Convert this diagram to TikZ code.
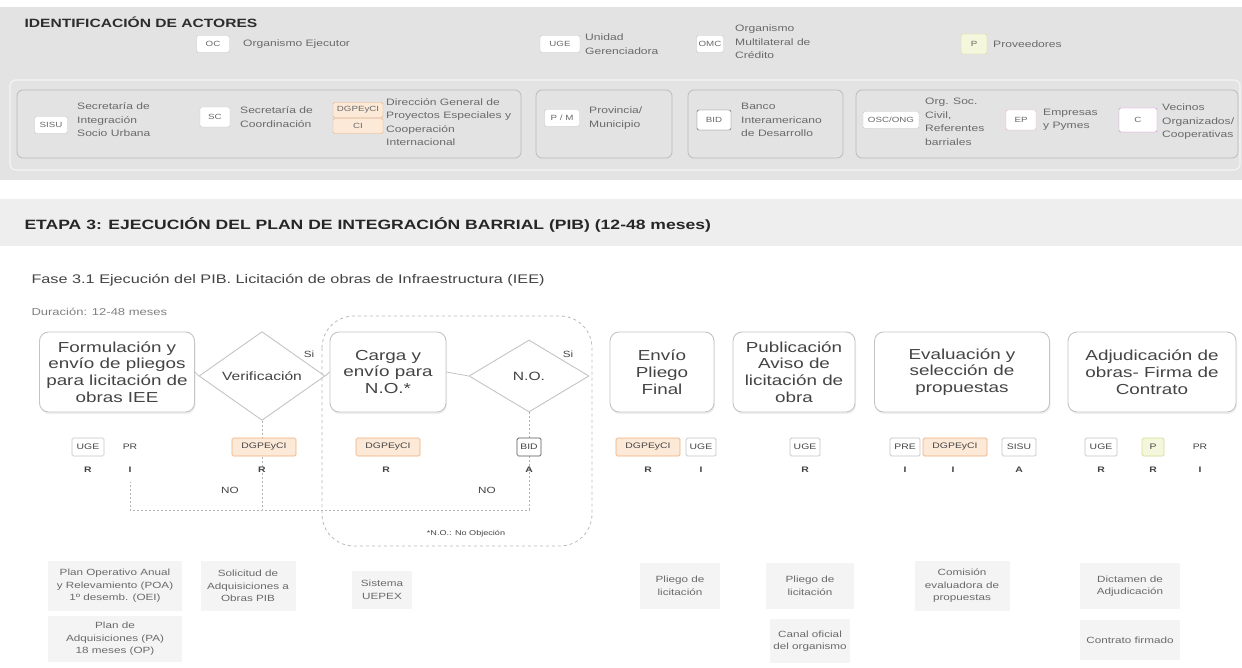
\documentclass[tikz,border=0pt]{standalone}
\usepackage{fontspec}
\setmainfont{Liberation Sans}[FakeStretch=1.3]
\usetikzlibrary{shapes.geometric,shadows}
\definecolor{band}{HTML}{E3E3E3}
\definecolor{bandtwo}{HTML}{EEEEEE}
\definecolor{bord}{HTML}{C4C4C4}
\definecolor{txt}{HTML}{444444}
\definecolor{ltxt}{HTML}{6A6A6A}
\definecolor{docfill}{HTML}{F4F4F4}
\definecolor{orgb}{HTML}{F0B07A}
\definecolor{orgf}{HTML}{FCE9D8}
\definecolor{yelb}{HTML}{D5DC95}
\definecolor{yelf}{HTML}{F4F7DC}
\definecolor{pinkb}{HTML}{E7B6C8}
\definecolor{magb}{HTML}{D27ED2}
\definecolor{bidb}{HTML}{555555}
\begin{document}
\begin{tikzpicture}[x=1pt,y=-1pt,
  flowbox/.style={draw=bord, fill=white, rounded corners=9pt, line width=0.9pt, align=center, text=txt, font=\fontsize{14.5}{16.8}\selectfont, minimum height=80pt, inner sep=2pt, drop shadow={opacity=0.12,shadow xshift=1pt,shadow yshift=-2pt}},
  decision/.style={diamond, draw=bord, fill=white, line width=0.9pt, text=txt, font=\fontsize{12}{14}\selectfont, minimum width=126pt, minimum height=72pt, inner sep=0pt},
  role/.style={draw=bord, fill=white, rounded corners=1.5pt, line width=0.7pt, text=txt, font=\fontsize{8}{9}\selectfont, minimum height=18pt, inner sep=2pt},
  orole/.style={role, draw=orgb, fill=orgf},
  raci/.style={text=txt, font=\bfseries\fontsize{8}{9}\selectfont},
  doc/.style={fill=docfill, align=center, text=ltxt, font=\fontsize{9}{12.5}\selectfont, inner sep=3pt},
  grp/.style={draw=gray!55, rounded corners=6pt, line width=0.7pt},
  act/.style={align=left, text=ltxt, font=\fontsize{9.3}{13.5}\selectfont, anchor=west, inner sep=0pt},
  abox/.style={draw=gray!45, fill=white, rounded corners=1.5pt, text=ltxt, font=\fontsize{7.5}{8.5}\selectfont, minimum height=17pt, inner sep=2pt},
  lnk/.style={draw=bord, line width=0.8pt},
  noloop/.style={draw=gray!60, dash pattern=on 2pt off 2pt, line width=0.7pt},
  lbl/.style={text=txt, font=\fontsize{9}{10}\selectfont}
]
\useasboundingbox (0,0) rectangle (1242,668);
\fill[white] (0,0) rectangle (1242,668);
% ---------- actors band ----------
\fill[band] (0,7) rectangle (1242,180);
\draw[white!60!band, line width=1.2pt, rounded corners=6pt] (10,80) rectangle (1240,170);
\node[anchor=west, text=gray!35!black, font=\bfseries\fontsize{12}{14}\selectfont] (hdr) at (21,22) {IDENTIFICACIÓN DE ACTORES};

\node[abox, minimum width=33pt] (oc) at (213,44) {OC};
\node[act] (oct) at (243,44) {Organismo Ejecutor};
\node[abox, minimum width=40pt] (uge) at (560,44) {UGE};
\node[act] (uget) at (585,44) {Unidad\\Gerenciadora};
\node[abox, minimum width=27pt] (omc) at (710,44) {OMC};
\node[act] (omct) at (735,42) {Organismo\\Multilateral de\\Crédito};
\node[abox, draw=yelb, fill=yelf, minimum width=26pt, minimum height=20pt] (pv) at (974,44) {P};
\node[act] (pvt) at (993,44) {Proveedores};

\draw[grp] (17,90) rectangle (521,158);
\draw[grp] (536,90) rectangle (672,158);
\draw[grp] (688,90) rectangle (843,158);
\draw[grp] (856,90) rectangle (1238,158);

\node[abox, minimum width=33pt] (sisu) at (51,125) {SISU};
\node[act] (sisut) at (77,120) {Secretaría de\\Integración\\Socio Urbana};
\node[abox, minimum width=30pt, minimum height=20pt] (sc) at (215,117) {SC};
\node[act] (sct) at (240,117) {Secretaría de\\Coordinación};
\node[abox, draw=orgb, fill=orgf, minimum width=50pt, minimum height=15pt] (dg) at (358,110) {DGPEyCI};
\node[abox, draw=orgb, fill=orgf, minimum width=50pt, minimum height=15pt] (ci) at (358,126) {CI};
\node[act] (dgt) at (386,122) {Dirección General de\\Proyectos Especiales y\\Cooperación\\Internacional};
\node[abox, minimum width=35pt] (pm) at (562,118) {P / M};
\node[act] (pmt) at (589,118) {Provincia/\\Municipio};
\node[abox, draw=bidb, minimum width=34pt, minimum height=20pt] (bidl) at (714,120) {BID};
\node[act] (bidt) at (741,120) {Banco\\Interamericano\\de Desarrollo};
\node[abox, minimum width=56pt] (osc) at (891,120) {OSC/ONG};
\node[act] (osct) at (925,122) {Org. Soc.\\Civil,\\Referentes\\barriales};
\node[abox, draw=pinkb, minimum width=30pt, minimum height=20pt] (ep) at (1021,120) {EP};
\node[act] (ept) at (1043,120) {Empresas\\y Pymes};
\node[abox, draw=magb, minimum width=38pt, minimum height=24pt] (coop) at (1138,120) {C};
\node[act] (coopt) at (1162,122) {Vecinos\\Organizados/\\Cooperativas};

% ---------- etapa ----------
\fill[bandtwo] (0,199) rectangle (1242,246);
\node[anchor=west, text=gray!30!black, font=\bfseries\fontsize{13.5}{16}\selectfont] (etapa) at (21,225) {ETAPA 3: EJECUCIÓN DEL PLAN DE INTEGRACIÓN BARRIAL (PIB) (12-48 meses)};
\node[anchor=west, text=txt, font=\fontsize{12.5}{14}\selectfont] (fase) at (28,280) {Fase 3.1 Ejecución del PIB. Licitación de obras de Infraestructura (IEE)};
\node[anchor=west, text=gray, font=\fontsize{10}{12}\selectfont] (dur) at (28,312) {Duración: 12-48 meses};

% ---------- region N.O. ----------
\draw[gray!55, dash pattern=on 3pt off 3pt, line width=0.8pt, rounded corners=32pt] (322,316) rectangle (592,546);
\node[text=txt, font=\fontsize{7}{8}\selectfont] (nonote) at (466,534) {*N.O.: No Objeción};

% ---------- flow ----------
\node[flowbox, minimum width=155pt] (f1) at (117,372) {Formulación y\\envío de pliegos\\para licitación de\\obras IEE};
\node[decision] (ver) at (262,376) {Verificación};
\node[flowbox, minimum width=116pt] (carga) at (388,372) {Carga y\\envío para\\N.O.*};
\node[decision, minimum width=120pt] (no) at (529,376) {N.O.};
\node[flowbox, minimum width=104pt] (envio) at (662,372) {Envío\\Pliego\\Final};
\node[flowbox, minimum width=122pt] (pub) at (794,372) {Publicación\\Aviso de\\licitación de\\obra};
\node[flowbox, minimum width=175pt] (eval) at (962,372) {Evaluación y\\selección de\\propuestas};
\node[flowbox, minimum width=168pt] (adj) at (1152,372) {Adjudicación de\\obras- Firma de\\Contrato};

\draw[lnk] (f1.east) -- (ver.west);
\draw[lnk] (ver.east) -- (carga.west);
\draw[lnk] (carga.east) -- (no.west);
\node[lbl] (si1) at (309,354) {Si};
\node[lbl] (si2) at (568,354) {Si};

% NO loops
\coordinate (vdown) at (262,510);
\coordinate (ndown) at (529,510);
\coordinate (lcorner) at (130,510);
\coordinate (lup) at (130,482);
\draw[noloop] (ver.south) -- (vdown);
\draw[noloop] (no.south) -- (ndown) -- (vdown) -- (lcorner) -- (lup);
\node[lbl] (no1) at (230,490) {NO};
\node[lbl] (no2) at (487,490) {NO};

% ---------- roles ----------
\node[role, minimum width=32pt] (r1) at (88,447) {UGE};
\node[role, draw=white, minimum width=22pt] (r2) at (130,447) {PR};
\node[orole, minimum width=64pt] (r3) at (264,447) {DGPEyCI};
\node[orole, minimum width=64pt] (r4) at (388,447) {DGPEyCI};
\node[role, draw=bidb, minimum width=24pt] (r5) at (529,447) {BID};
\node[orole, minimum width=64pt] (r6) at (648,447) {DGPEyCI};
\node[role, minimum width=30pt] (r7) at (701,447) {UGE};
\node[role, minimum width=30pt] (r8) at (805,447) {UGE};
\node[role, minimum width=30pt] (r9) at (905,447) {PRE};
\node[orole, minimum width=64pt] (r10) at (955,447) {DGPEyCI};
\node[role, minimum width=34pt] (r11) at (1019,447) {SISU};
\node[role, minimum width=32pt] (r12) at (1101,447) {UGE};
\node[role, draw=yelb, fill=yelf, minimum width=22pt] (r13) at (1153,447) {P};
\node[role, draw=white, minimum width=22pt] (r14) at (1200,447) {PR};

\node[raci] (a1) at (88,470) {R};
\node[raci] (a2) at (130,470) {I};
\node[raci] (a3) at (262,470) {R};
\node[raci] (a4) at (386,470) {R};
\node[raci] (a5) at (529,470) {A};
\node[raci] (a6) at (648,470) {R};
\node[raci] (a7) at (701,470) {I};
\node[raci] (a8) at (805,470) {R};
\node[raci] (a9) at (905,470) {I};
\node[raci] (a10) at (953,470) {I};
\node[raci] (a11) at (1019,470) {A};
\node[raci] (a12) at (1101,470) {R};
\node[raci] (a13) at (1153,470) {R};
\node[raci] (a14) at (1200,470) {I};

% ---------- documents ----------
\node[doc, minimum width=134pt, minimum height=50pt] (d1) at (115,586) {Plan Operativo Anual\\y Relevamiento (POA)\\1º desemb. (OEI)};
\node[doc, minimum width=134pt, minimum height=46pt] (d2) at (115,639) {Plan de\\Adquisiciones (PA)\\18 meses (OP)};
\node[doc, minimum width=95pt, minimum height=50pt] (d3) at (248,586) {Solicitud de\\Adquisiciones a\\Obras PIB};
\node[doc, minimum width=60pt, minimum height=38pt] (d4) at (382,590) {Sistema\\UEPEX};
\node[doc, minimum width=80pt, minimum height=46pt] (d5) at (680,586) {Pliego de\\licitación};
\node[doc, minimum width=88pt, minimum height=46pt] (d6) at (810,586) {Pliego de\\licitación};
\node[doc, minimum width=80pt, minimum height=44pt] (d7) at (810,641) {Canal oficial\\del organismo};
\node[doc, minimum width=95pt, minimum height=50pt] (d8) at (962,586) {Comisión\\evaluadora de\\propuestas};
\node[doc, minimum width=100pt, minimum height=46pt] (d9) at (1130,586) {Dictamen de\\Adjudicación};
\node[doc, minimum width=100pt, minimum height=40pt] (d10) at (1130,640) {Contrato firmado};
\end{tikzpicture}
\end{document}
